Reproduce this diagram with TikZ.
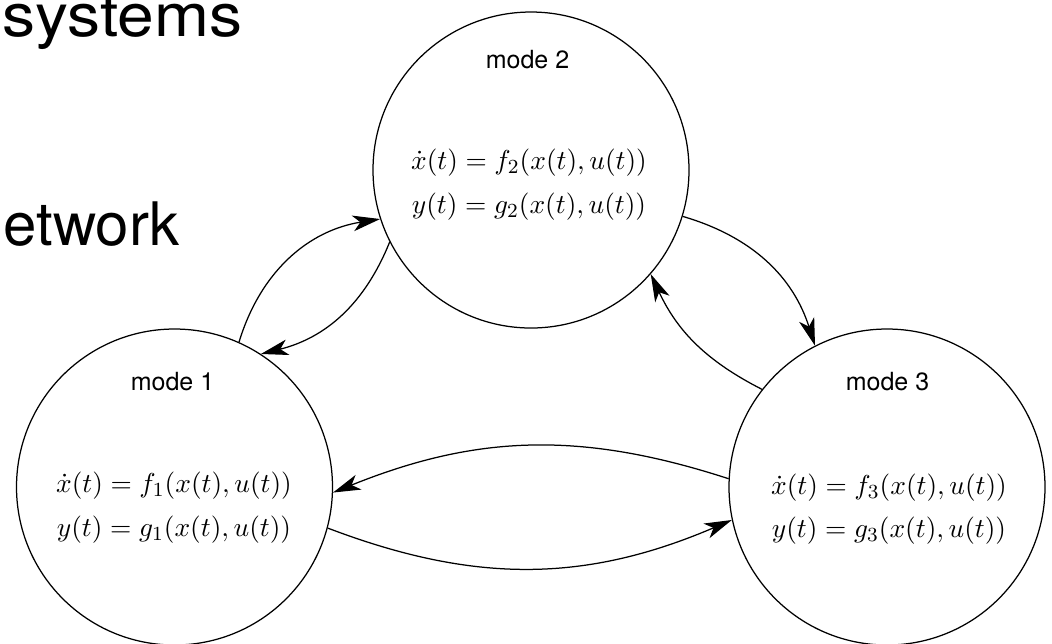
\documentclass[tikz,border=0pt]{standalone}
\usepackage{fontspec}
\newfontfamily\helv{TeX Gyre Heros}
\usetikzlibrary{arrows.meta}
\begin{document}
\begin{tikzpicture}[x=0.4pt,y=-0.4pt,
  mode/.style={circle,draw,line width=0.5pt,minimum size=126.4pt,inner sep=0pt},
  modename/.style={font=\helv\fontsize{10}{12}\selectfont,anchor=base,inner sep=0pt},
  dyn/.style={font=\fontsize{10.95}{13}\selectfont,anchor=base,inner sep=0pt},
  slide/.style={font=\helv\fontsize{24}{28}\selectfont,anchor=base east,inner sep=0pt},
  trans/.style={line width=0.5pt,-{Stealth[length=11pt,width=6.3pt,inset=3pt]}}]
\useasboundingbox (0,0) rectangle (1052,643);

% slide text behind the diagram
\node[slide] (t1) at (243,36) {\scalebox{1.1}[1]{systems}};
\node[slide] (t2) at (180,245) {etwork};

% the three modes
\node[mode] (m1) at (174.5,487) {};
\node[mode] (m2) at (531,170) {};
\node[mode] (m3) at (887,487) {};

\node[modename] (m1n) at (172.5,390) {mode 1};
\node[modename] (m2n) at (527.5,68) {mode 2};
\node[modename] (m3n) at (887.5,390) {mode 3};

\node[dyn] (m1f) at (174,492) {$\dot x(t) = f_1(x(t),u(t))$};
\node[dyn] (m1g) at (174,536) {$y(t) = g_1(x(t),u(t))$};
\node[dyn] (m2f) at (529,169.5) {$\dot x(t) = f_2(x(t),u(t))$};
\node[dyn] (m2g) at (529,213) {$y(t) = g_2(x(t),u(t))$};
\node[dyn] (m3f) at (889,494) {$\dot x(t) = f_3(x(t),u(t))$};
\node[dyn] (m3g) at (889,537) {$y(t) = g_3(x(t),u(t))$};

% transitions
\draw[trans] (m1.66.8) to[bend left=32] (m2.198.4);
\draw[trans] (m2.207.7) to[bend left=27] (m1.57);
\draw[trans] (m2.-17.5) to[bend left=28] (m3.117.4);
\draw[trans] (m3.142.5) to[bend left=19] (m2.-41.3);
\draw[trans] (m3.177) to[bend right=20] (m1.-2.5);
\draw[trans] (m1.-15) to[bend right=22] (m3.192.4);
\end{tikzpicture}
\end{document}
